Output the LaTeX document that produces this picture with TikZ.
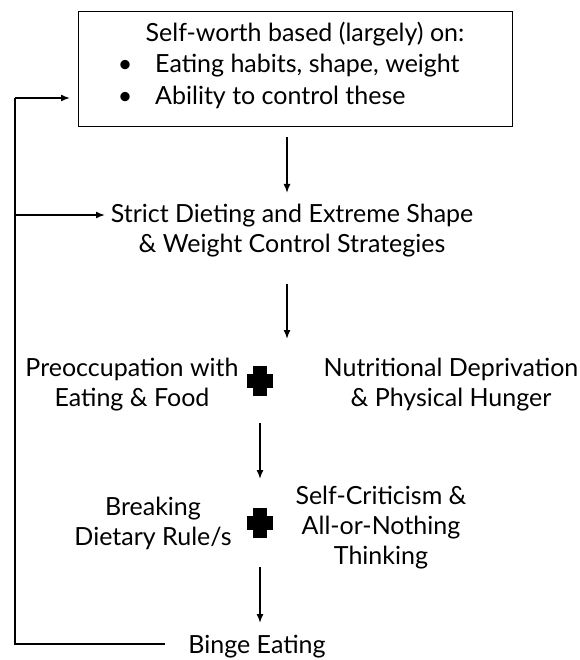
\documentclass[tikz,border=0pt]{standalone}
\usepackage{fontspec}
\setmainfont{Lato}
\usetikzlibrary{arrows.meta}
\begin{document}
\begin{tikzpicture}[x=1pt,y=-1pt,
  txt/.style={inner sep=0pt,align=center,font=\fontsize{25}{30}\selectfont},
  arr/.style={-{Latex[length=9pt,width=7pt]},line width=1.5pt},
  ln/.style={line width=1.1pt},
  plusmark/.style={minimum width=26pt,minimum height=30pt,inner sep=0pt,
    path picture={\fill[black] ([xshift=-7pt]path picture bounding box.north) rectangle ([xshift=7pt]path picture bounding box.south);
      \fill[black] ([yshift=7pt]path picture bounding box.west) rectangle ([yshift=-7pt]path picture bounding box.east);}}]
\useasboundingbox (0,0) rectangle (579,660);
% top box
\node[draw,line width=0.8pt,minimum width=434pt,minimum height=115pt,inner sep=0pt] (box) at (295,68.5) {};
\node[txt,anchor=base] (l1) at (305,42) {Self-worth based (largely) on:};
\node[txt,anchor=base] (b1) at (125,73) {\textbullet};
\node[txt,anchor=base west] (l2) at (155,73) {Eating habits, shape, weight};
\node[txt,anchor=base] (b2) at (125,105) {\textbullet};
\node[txt,anchor=base west] (l3) at (155,105) {Ability to control these};
% strict dieting
\node[txt] (strict) at (292,231) {Strict Dieting and Extreme Shape\\\& Weight Control Strategies};
% row 3
\node[txt] (preocc) at (132,385) {Preoccupation with\\Eating \& Food};
\node[plusmark] (plus1) at (260,381) {};
\node[txt] (nutri) at (451,385) {Nutritional Deprivation\\\& Physical Hunger};
% row 4
\node[txt] (breaking) at (153,523) {Breaking\\Dietary Rule/s};
\node[plusmark] (plus2) at (260,523) {};
\node[txt] (selfcrit) at (381,528) {Self-Criticism \&\\All-or-Nothing\\Thinking};
% binge
\node[txt,anchor=base] (binge) at (257,653) {Binge Eating};
% arrow coordinates
\coordinate (a1s) at (287,137);
\coordinate (a1e) at (287,193);
\coordinate (a2s) at (287,284);
\coordinate (a2e) at (287,339);
\coordinate (a3s) at (260,423);
\coordinate (a3e) at (260,479);
\coordinate (a4s) at (260,567);
\coordinate (a4e) at (260,623);
\coordinate (fbstart) at (165,644);
\coordinate (fbcorner) at (15,644);
\coordinate (fbtop) at (15,98);
\coordinate (fbboxend) at (70,98);
\coordinate (fbmid) at (15,215);
\coordinate (fbstrictend) at (105,215);
\draw[arr] (a1s) -- (a1e);
\draw[arr] (a2s) -- (a2e);
\draw[arr] (a3s) -- (a3e);
\draw[arr] (a4s) -- (a4e);
\draw[ln] (fbstart) -- (fbcorner) -- (fbtop);
\draw[arr] (fbtop) -- (fbboxend);
\draw[arr] (fbmid) -- (fbstrictend);
\end{tikzpicture}
\end{document}
